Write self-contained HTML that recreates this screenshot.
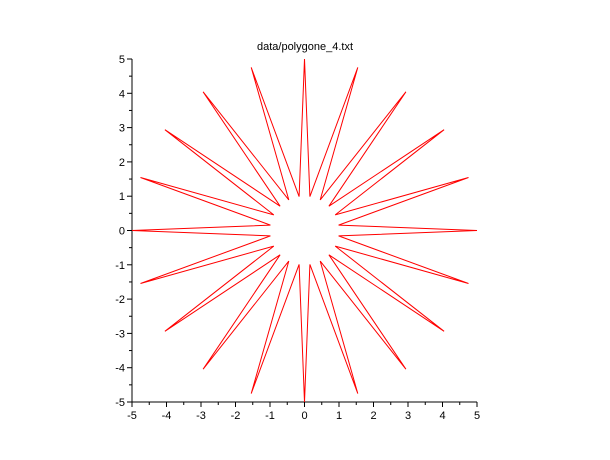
<!DOCTYPE html>
<html><head><meta charset="utf-8"><style>
html,body{margin:0;padding:0;background:#fff;}
svg{display:block;font-family:"Liberation Sans",sans-serif;}
</style></head><body>
<svg id="chart" width="610" height="460"></svg>
<script>
const xTicks=[-5,-4,-3,-2,-1,0,1,2,3,4,5];
const yTicks=[-5,-4,-3,-2,-1,0,1,2,3,4,5];
const polyX=[5,.988,4.755,.891,4.045,.707,2.939,.454,1.545,.156,0,-.156,-1.545,-.454,-2.939,-.707,-4.045,-.891,-4.755,-.988,-5,-.988,-4.755,-.891,-4.045,-.707,-2.939,-.454,-1.545,-.156,0,.156,1.545,.454,2.939,.707,4.045,.891,4.755,.988];
const polyY=[0,.156,1.545,.454,2.939,.707,4.045,.891,4.755,.988,5,.988,4.755,.891,4.045,.707,2.939,.454,1.545,.156,0,-.156,-1.545,-.454,-2.939,-.707,-4.045,-.891,-4.755,-.988,-5,-.988,-4.755,-.891,-4.045,-.707,-2.939,-.454,-1.545,-.156];
const NS="http://www.w3.org/2000/svg";
const svg=document.getElementById('chart');
const X0=132,X1=477,Y0=402,Y1=59;
const sx=v=>X0+(v+5)/10*(X1-X0);
const sy=v=>Y0-(v+5)/10*(Y0-Y1);
function mk(t,a){const e=document.createElementNS(NS,t);for(const k in a)e.setAttribute(k,a[k]);svg.appendChild(e);return e;}
const title=mk('text',{x:305,y:50,'text-anchor':'middle','font-size':11,fill:'#000'});
title.textContent='data/polygone_4.txt';


const xa=mk('line',{x1:X0,y1:Y0,x2:X1,y2:Y0,stroke:'#000','stroke-width':1});


const ya=mk('line',{x1:X0,y1:Y0,x2:X0,y2:Y1,stroke:'#000','stroke-width':1});


for(let i=0;i<xTicks.length;i++){
  const v=xTicks[i],x=sx(v);
  mk('line',{x1:x,y1:Y0,x2:x,y2:Y0+5,stroke:'#000'});
  if(i<xTicks.length-1){const m=sx(v+0.5);mk('line',{x1:m,y1:Y0,x2:m,y2:Y0+3,stroke:'#000'});}
  const t=mk('text',{x:x,y:Y0+17,'text-anchor':'middle','font-size':11});
  t.textContent=String(v);
  
  
}
for(let i=0;i<yTicks.length;i++){
  const v=yTicks[i],y=sy(v);
  mk('line',{x1:X0-5,y1:y,x2:X0,y2:y,stroke:'#000'});
  if(i<yTicks.length-1){const m=sy(v+0.5);mk('line',{x1:X0-3,y1:m,x2:X0,y2:m,stroke:'#000'});}
  const t=mk('text',{x:X0-7,y:y+4,'text-anchor':'end','font-size':11});
  t.textContent=String(v);
  
  
}
const pts=polyX.map((x,i)=>sx(x).toFixed(1)+','+sy(polyY[i]).toFixed(1)).join(' ');
const pg=mk('polygon',{points:pts,fill:'none',stroke:'#ff0000','stroke-width':1});


</script>
</body></html>
